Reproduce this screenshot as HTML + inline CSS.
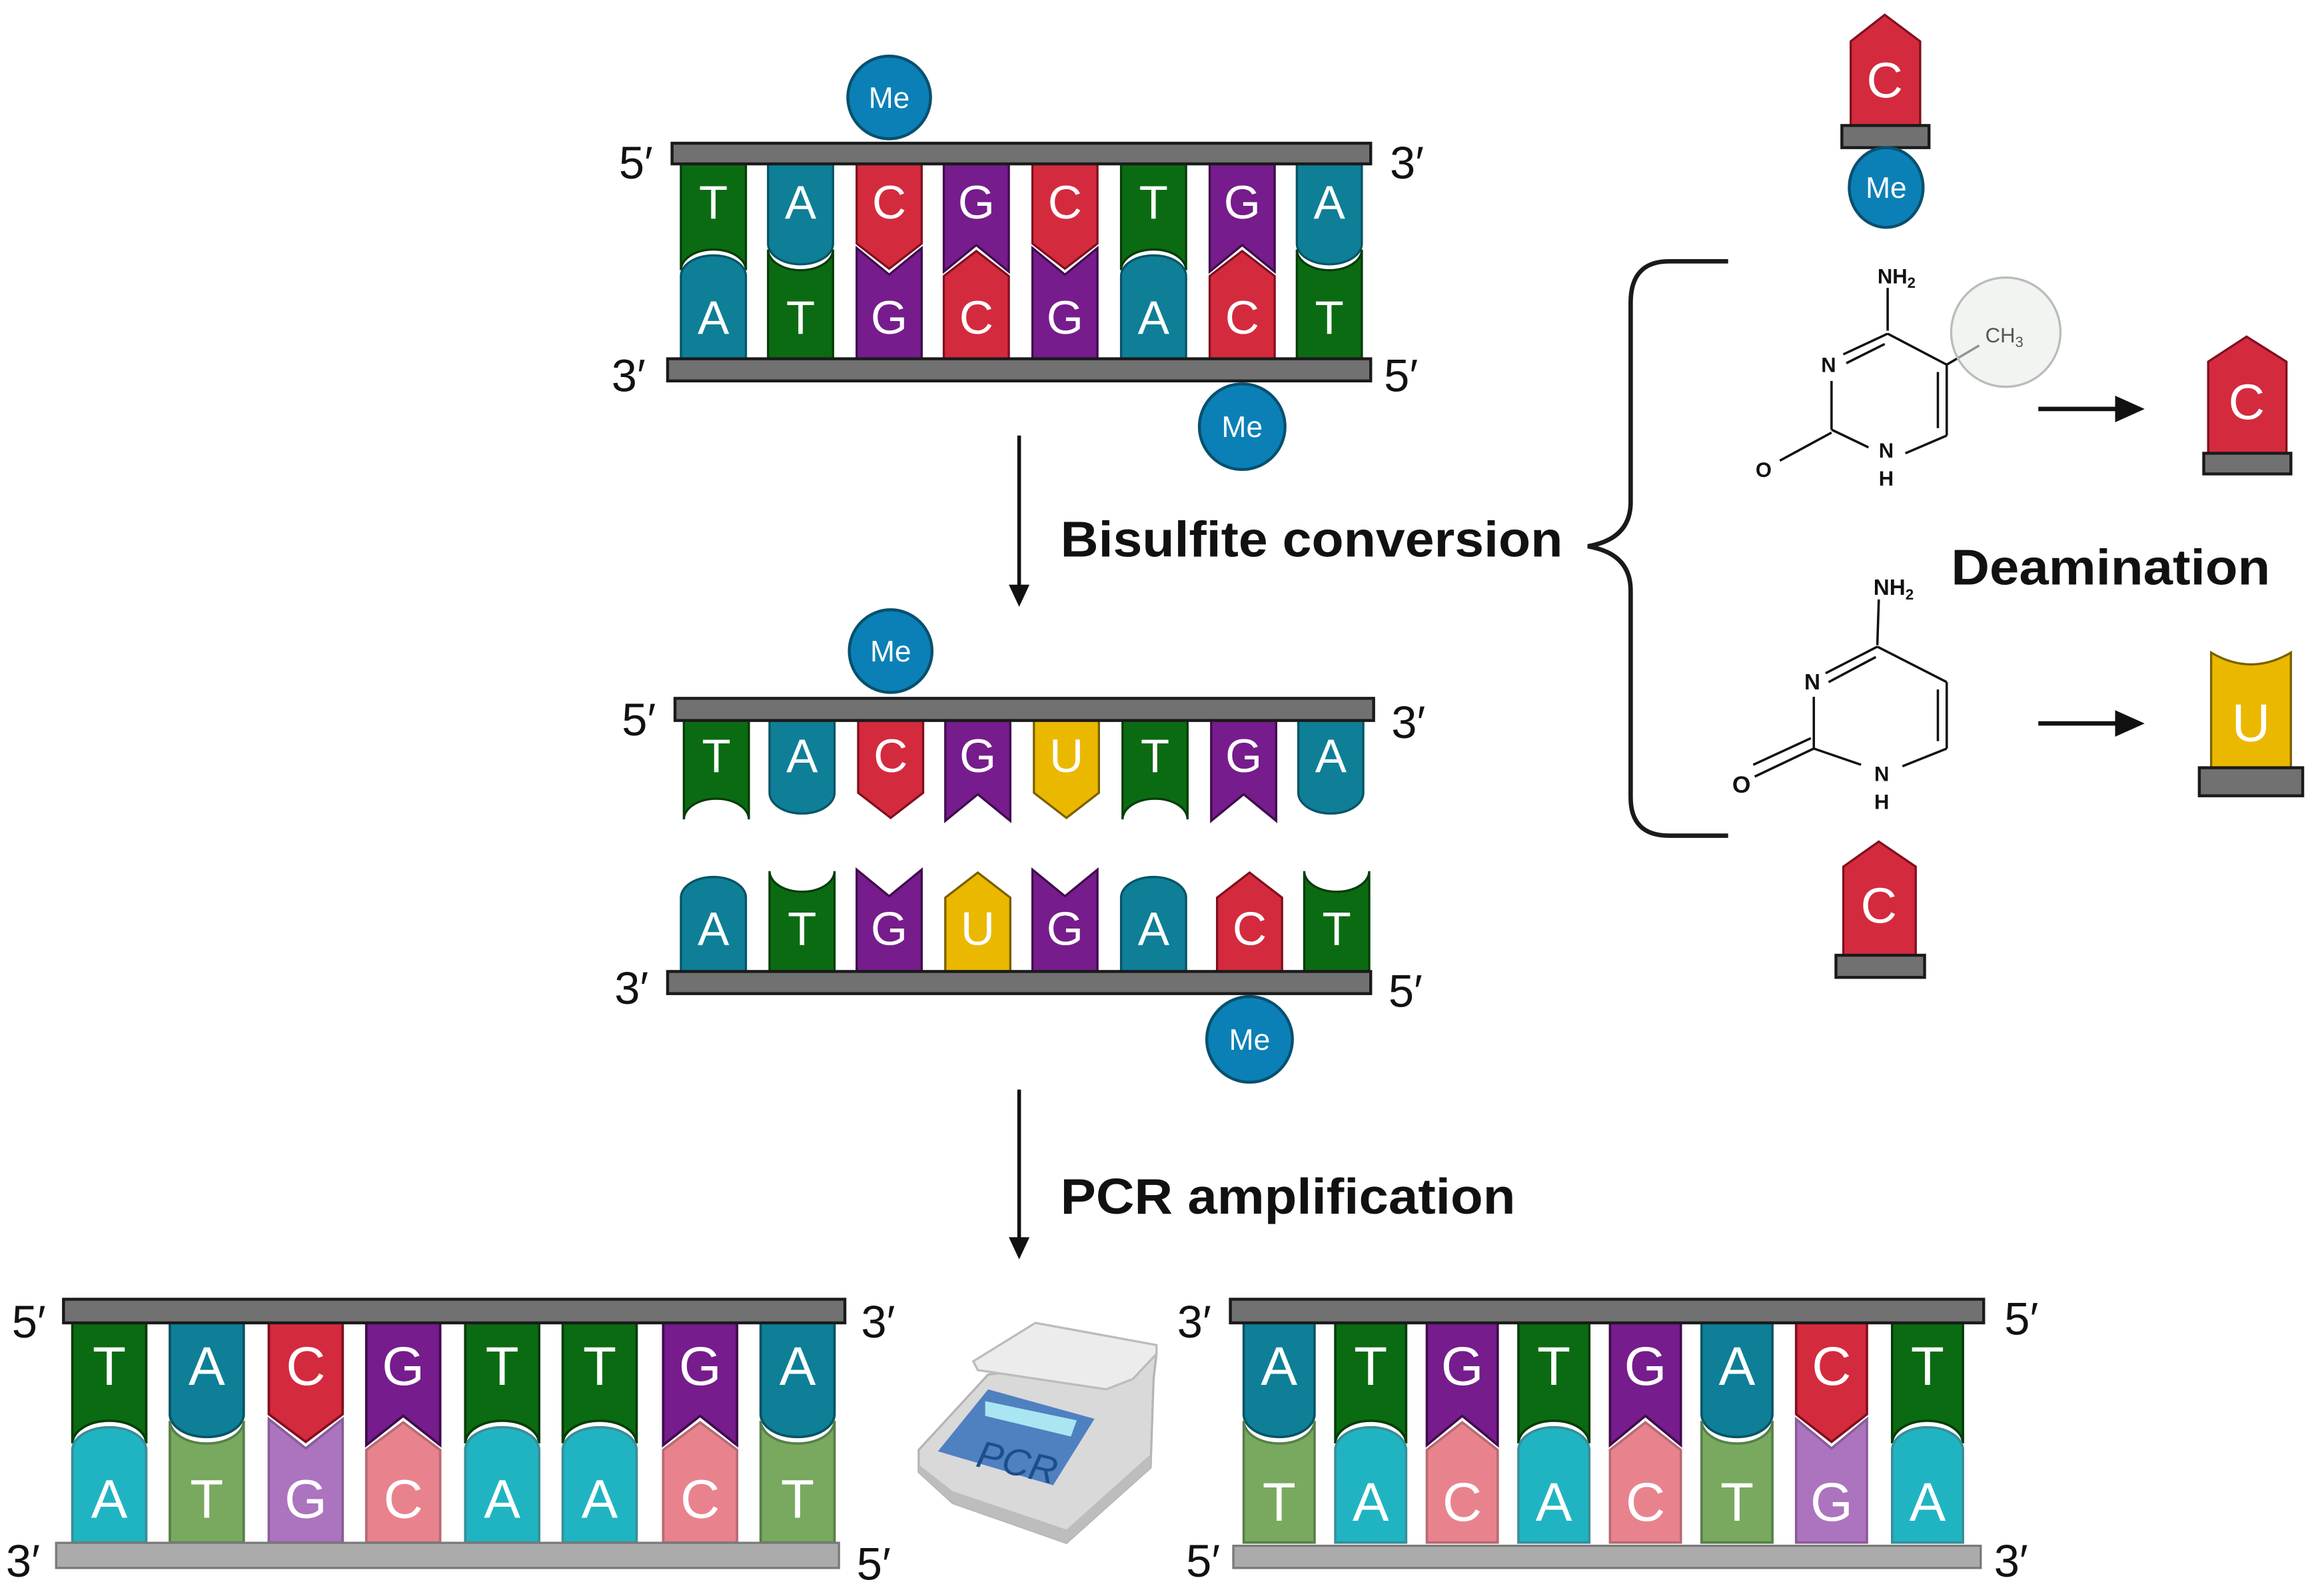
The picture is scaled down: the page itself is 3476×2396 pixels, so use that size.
<!DOCTYPE html>
<html><head><meta charset="utf-8"><style>
html,body{margin:0;padding:0;background:#fff}
svg{display:block}
text{font-family:"Liberation Sans",sans-serif}
</style></head><body>
<svg width="3476" height="2396" viewBox="0 0 1568 1081" preserveAspectRatio="none" xmlns="http://www.w3.org/2000/svg">
<defs>
<path id="cv" d="M-22,-68 H22 V-11 A22,14 0 0 1 -22,-11 Z"/>
<path id="cc" d="M-22,-68 H22 V7 A22,14 0 0 0 -22,7 Z"/>
<path id="pt" d="M-22,-68 H22 V-11 L0,6 L-22,-11 Z"/>
<path id="nt" d="M-22,-68 H22 V8 L0,-10 L-22,8 Z"/>
</defs>
<style>
.T{fill:#0b6b12;stroke:#053d08}
.A{fill:#0e7f97;stroke:#075466}
.C{fill:#d42a3e;stroke:#80101e}
.G{fill:#761c8c;stroke:#3f0c4c}
.U{fill:#ebb800;stroke:#7a6000}
.lT{fill:#79a85f;stroke:#56804a}
.lA{fill:#20b4c2;stroke:#3a8e98}
.lC{fill:#e8838d;stroke:#b86a72}
.lG{fill:#ac73bf;stroke:#8a5c99}
use{stroke-width:1.5}
.lt{fill:#fff;font-size:32px;text-anchor:middle}
.lt3{fill:#fff;font-size:37px;text-anchor:middle}
.pr{fill:#111;font-size:31px}
.bar{fill:#717171;stroke:#1a1a1a;stroke-width:2}
.lbar{fill:#ababab;stroke:#7a7a7a;stroke-width:1.5}
.me circle{fill:#0b80b6;stroke:#08506f;stroke-width:2}
.me text{fill:#fff;font-size:20px;text-anchor:middle}
.hd{font-weight:bold;font-size:34px;fill:#111}
.ch{font-weight:bold;font-size:14px;fill:#111;text-anchor:middle}
</style>

<!-- ===== Diagram 1 ===== -->
<g>
<use href="#cc" class="T" transform="translate(483,176)"/>
<use href="#cv" class="A" transform="translate(542,176)"/>
<use href="#pt" class="C" transform="translate(602,176)"/>
<use href="#nt" class="G" transform="translate(661,176)"/>
<use href="#pt" class="C" transform="translate(721,176)"/>
<use href="#cc" class="T" transform="translate(781,176)"/>
<use href="#nt" class="G" transform="translate(841,176)"/>
<use href="#cv" class="A" transform="translate(900,176)"/>
<use href="#cv" class="A" transform="translate(483,176) scale(1,-1)"/>
<use href="#cc" class="T" transform="translate(542,176) scale(1,-1)"/>
<use href="#nt" class="G" transform="translate(602,176) scale(1,-1)"/>
<use href="#pt" class="C" transform="translate(661,176) scale(1,-1)"/>
<use href="#nt" class="G" transform="translate(721,176) scale(1,-1)"/>
<use href="#cv" class="A" transform="translate(781,176) scale(1,-1)"/>
<use href="#pt" class="C" transform="translate(841,176) scale(1,-1)"/>
<use href="#cc" class="T" transform="translate(900,176) scale(1,-1)"/>
<rect class="bar" x="455" y="97" width="473" height="14"/>
<rect class="bar" x="452" y="243" width="476" height="15"/>
<g class="lt">
<text x="483" y="148">T</text><text x="542" y="148">A</text><text x="602" y="148">C</text><text x="661" y="148">G</text><text x="721" y="148">C</text><text x="781" y="148">T</text><text x="841" y="148">G</text><text x="900" y="148">A</text>
<text x="483" y="226">A</text><text x="542" y="226">T</text><text x="602" y="226">G</text><text x="661" y="226">C</text><text x="721" y="226">G</text><text x="781" y="226">A</text><text x="841" y="226">C</text><text x="900" y="226">T</text>
</g>
<text class="pr" x="419" y="121">5′</text><text class="pr" x="941" y="121">3′</text>
<text class="pr" x="414" y="265">3′</text><text class="pr" x="937" y="265">5′</text>
<g class="me"><circle cx="602" cy="66" r="28"/><text x="602" y="73">Me</text></g>
<g class="me"><circle cx="841" cy="289" r="29"/><text x="841" y="296">Me</text></g>
</g>

<line x1="690" y1="295" x2="690" y2="398" stroke="#111" stroke-width="2.5"/>
<polygon points="683,396 697,396 690,411" fill="#111"/>
<text class="hd" x="718" y="377" textLength="340" lengthAdjust="spacingAndGlyphs">Bisulfite conversion</text>

<!-- ===== Diagram 2 ===== -->
<g>
<use href="#cc" class="T" transform="translate(485,548)"/>
<use href="#cv" class="A" transform="translate(543,548)"/>
<use href="#pt" class="C" transform="translate(603,548)"/>
<use href="#nt" class="G" transform="translate(662,548)"/>
<use href="#pt" class="U" transform="translate(722,548)"/>
<use href="#cc" class="T" transform="translate(782,548)"/>
<use href="#nt" class="G" transform="translate(842,548)"/>
<use href="#cv" class="A" transform="translate(901,548)"/>
<use href="#cv" class="A" transform="translate(483,597) scale(1,-1)"/>
<use href="#cc" class="T" transform="translate(543,597) scale(1,-1)"/>
<use href="#nt" class="G" transform="translate(602,597) scale(1,-1)"/>
<use href="#pt" class="U" transform="translate(662,597) scale(1,-1)"/>
<use href="#nt" class="G" transform="translate(721,597) scale(1,-1)"/>
<use href="#cv" class="A" transform="translate(781,597) scale(1,-1)"/>
<use href="#pt" class="C" transform="translate(846,597) scale(1,-1)"/>
<use href="#cc" class="T" transform="translate(905,597) scale(1,-1)"/>
<rect class="bar" x="457" y="473" width="473" height="15"/>
<rect class="bar" x="452" y="658" width="476" height="15"/>
<g class="lt">
<text x="485" y="523">T</text><text x="543" y="523">A</text><text x="603" y="523">C</text><text x="662" y="523">G</text><text x="722" y="523">U</text><text x="782" y="523">T</text><text x="842" y="523">G</text><text x="901" y="523">A</text>
<text x="483" y="640">A</text><text x="543" y="640">T</text><text x="602" y="640">G</text><text x="662" y="640">U</text><text x="721" y="640">G</text><text x="781" y="640">A</text><text x="846" y="640">C</text><text x="905" y="640">T</text>
</g>
<text class="pr" x="421" y="498">5′</text><text class="pr" x="942" y="500">3′</text>
<text class="pr" x="416" y="680">3′</text><text class="pr" x="940" y="682">5′</text>
<g class="me"><circle cx="603" cy="441" r="28"/><text x="603" y="448">Me</text></g>
<g class="me"><circle cx="846" cy="704" r="29"/><text x="846" y="711">Me</text></g>
</g>

<line x1="690" y1="738" x2="690" y2="840" stroke="#111" stroke-width="2.5"/>
<polygon points="683,838 697,838 690,853" fill="#111"/>
<text class="hd" x="718" y="822" textLength="308" lengthAdjust="spacingAndGlyphs">PCR amplification</text>

<!-- ===== Diagram 3 left ===== -->
<g>
<use href="#cc" class="T" transform="translate(74,970) scale(1.136,1.1)"/>
<use href="#cv" class="A" transform="translate(140,970) scale(1.136,1.1)"/>
<use href="#pt" class="C" transform="translate(207,970) scale(1.136,1.1)"/>
<use href="#nt" class="G" transform="translate(273,970) scale(1.136,1.1)"/>
<use href="#cc" class="T" transform="translate(340,970) scale(1.136,1.1)"/>
<use href="#cc" class="T" transform="translate(406,970) scale(1.136,1.1)"/>
<use href="#nt" class="G" transform="translate(474,970) scale(1.136,1.1)"/>
<use href="#cv" class="A" transform="translate(540,970) scale(1.136,1.1)"/>
<use href="#cv" class="lA" transform="translate(74,970) scale(1.136,-1.1)"/>
<use href="#cc" class="lT" transform="translate(140,970) scale(1.136,-1.1)"/>
<use href="#nt" class="lG" transform="translate(207,970) scale(1.136,-1.1)"/>
<use href="#pt" class="lC" transform="translate(273,970) scale(1.136,-1.1)"/>
<use href="#cv" class="lA" transform="translate(340,970) scale(1.136,-1.1)"/>
<use href="#cv" class="lA" transform="translate(406,970) scale(1.136,-1.1)"/>
<use href="#pt" class="lC" transform="translate(474,970) scale(1.136,-1.1)"/>
<use href="#cc" class="lT" transform="translate(540,970) scale(1.136,-1.1)"/>
<rect class="bar" x="43" y="880" width="529" height="16"/>
<rect class="lbar" x="38" y="1045" width="530" height="17"/>
<g class="lt3">
<text x="74" y="938">T</text><text x="140" y="938">A</text><text x="207" y="938">C</text><text x="273" y="938">G</text><text x="340" y="938">T</text><text x="406" y="938">T</text><text x="474" y="938">G</text><text x="540" y="938">A</text>
<text x="74" y="1028">A</text><text x="140" y="1028">T</text><text x="207" y="1028">G</text><text x="273" y="1028">C</text><text x="340" y="1028">A</text><text x="406" y="1028">A</text><text x="474" y="1028">C</text><text x="540" y="1028">T</text>
</g>
<text class="pr" x="8" y="906">5′</text><text class="pr" x="583" y="906">3′</text>
<text class="pr" x="4" y="1068">3′</text><text class="pr" x="580" y="1070">5′</text>
</g>

<!-- ===== Diagram 3 right ===== -->
<g>
<use href="#cv" class="A" transform="translate(866,970) scale(1.09,1.1)"/>
<use href="#cc" class="T" transform="translate(928,970) scale(1.09,1.1)"/>
<use href="#nt" class="G" transform="translate(990,970) scale(1.09,1.1)"/>
<use href="#cc" class="T" transform="translate(1052,970) scale(1.09,1.1)"/>
<use href="#nt" class="G" transform="translate(1114,970) scale(1.09,1.1)"/>
<use href="#cv" class="A" transform="translate(1176,970) scale(1.09,1.1)"/>
<use href="#pt" class="C" transform="translate(1240,970) scale(1.09,1.1)"/>
<use href="#cc" class="T" transform="translate(1305,970) scale(1.09,1.1)"/>
<use href="#cc" class="lT" transform="translate(866,970) scale(1.09,-1.1)"/>
<use href="#cv" class="lA" transform="translate(928,970) scale(1.09,-1.1)"/>
<use href="#pt" class="lC" transform="translate(990,970) scale(1.09,-1.1)"/>
<use href="#cv" class="lA" transform="translate(1052,970) scale(1.09,-1.1)"/>
<use href="#pt" class="lC" transform="translate(1114,970) scale(1.09,-1.1)"/>
<use href="#cc" class="lT" transform="translate(1176,970) scale(1.09,-1.1)"/>
<use href="#nt" class="lG" transform="translate(1240,970) scale(1.09,-1.1)"/>
<use href="#cv" class="lA" transform="translate(1305,970) scale(1.09,-1.1)"/>
<rect class="bar" x="833" y="880" width="510" height="16"/>
<rect class="lbar" x="835" y="1047" width="506" height="15"/>
<g class="lt3">
<text x="866" y="938">A</text><text x="928" y="938">T</text><text x="990" y="938">G</text><text x="1052" y="938">T</text><text x="1114" y="938">G</text><text x="1176" y="938">A</text><text x="1240" y="938">C</text><text x="1305" y="938">T</text>
<text x="866" y="1030">T</text><text x="928" y="1030">A</text><text x="990" y="1030">C</text><text x="1052" y="1030">A</text><text x="1114" y="1030">C</text><text x="1176" y="1030">T</text><text x="1240" y="1030">G</text><text x="1305" y="1030">A</text>
</g>
<text class="pr" x="797" y="906">3′</text><text class="pr" x="1357" y="904">5′</text>
<text class="pr" x="803" y="1068">5′</text><text class="pr" x="1350" y="1068">3′</text>
</g>

<!-- PCR machine -->
<g>
<polygon points="622,982 669,931 783,917 781,934 779,994 722,1045 645,1018 622,997" fill="#d9d9d9" stroke="#b5b5b5" stroke-width="1.5"/>
<polygon points="622,992 645,1010 722,1036 779,985 779,994 722,1045 645,1018 622,997" fill="#bdbdbd"/>
<polygon points="659,922 701,896 783,911 783,917 767,934 749,941 662,928" fill="#ececec" stroke="#bcbcbc" stroke-width="1.5"/>
<polygon points="635,983 669,941 741,961 713,1006" fill="#4f80c0"/>
<polygon points="667,949 729,962 725,973 667,959" fill="#a9e6f2"/>
<text x="660" y="993" font-size="26" font-style="italic" fill="#1d4e8c" transform="rotate(13 660 993)">PCR</text>
</g>

<!-- ===== Right panel ===== -->
<path d="M1253,28 L1276,10 L1300,28 V85 H1253 Z" fill="#d42a3e" stroke="#80101e" stroke-width="1.5"/>
<text x="1276" y="66" class="lt" style="font-size:34px">C</text>
<rect class="bar" x="1247" y="85" width="59" height="15"/>
<g class="me"><ellipse cx="1277" cy="127" rx="25" ry="27" fill="#0b80b6" stroke="#08506f" stroke-width="2"/><text x="1277" y="134">Me</text></g>

<path d="M1170,177 H1130 Q1104,177 1104,205 V340 Q1104,365 1075,370 Q1104,375 1104,400 V540 Q1104,566 1130,566 H1170" fill="none" stroke="#1a1a1a" stroke-width="3"/>

<g stroke="#111" stroke-width="1.6" fill="none">
<line x1="1278" y1="195" x2="1278" y2="224"/>
<line x1="1278" y1="226" x2="1318" y2="247"/>
<line x1="1318" y1="247" x2="1318" y2="295"/>
<line x1="1312" y1="252" x2="1312" y2="290"/>
<line x1="1318" y1="295" x2="1290" y2="307"/>
<line x1="1265" y1="303" x2="1240" y2="291"/>
<line x1="1240" y1="291" x2="1240" y2="258"/>
<line x1="1248" y1="240" x2="1278" y2="226"/>
<line x1="1250" y1="246" x2="1276" y2="233"/>
<line x1="1240" y1="293" x2="1205" y2="312"/>
<line x1="1318" y1="247" x2="1340" y2="234"/>
</g>
<circle cx="1358" cy="225" r="37" fill="#e9ece9" fill-opacity="0.6" stroke="#b9bdb9" stroke-width="1.5"/>
<text x="1357" y="232" font-size="14" fill="#555" text-anchor="middle">CH<tspan font-size="10" dy="3">3</tspan></text>
<text class="ch" x="1284" y="192">NH<tspan font-size="10" dy="3">2</tspan></text>
<text class="ch" x="1238" y="252">N</text>
<text class="ch" x="1277" y="310">N</text>
<text class="ch" x="1277" y="329">H</text>
<text class="ch" x="1194" y="323">O</text>

<g stroke="#111" stroke-width="1.6" fill="none">
<line x1="1272" y1="406" x2="1271" y2="437"/>
<line x1="1271" y1="438" x2="1318" y2="462"/>
<line x1="1318" y1="462" x2="1318" y2="507"/>
<line x1="1312" y1="467" x2="1312" y2="502"/>
<line x1="1318" y1="507" x2="1288" y2="519"/>
<line x1="1260" y1="518" x2="1228" y2="507"/>
<line x1="1228" y1="507" x2="1228" y2="472"/>
<line x1="1236" y1="456" x2="1271" y2="438"/>
<line x1="1238" y1="462" x2="1270" y2="445"/>
<line x1="1228" y1="507" x2="1188" y2="526"/>
<line x1="1226" y1="500" x2="1187" y2="518"/>
</g>
<text class="ch" x="1282" y="403" style="font-size:15px">NH<tspan font-size="10" dy="3">2</tspan></text>
<text class="ch" x="1227" y="467" style="font-size:15px">N</text>
<text class="ch" x="1274" y="529">N</text>
<text class="ch" x="1274" y="548">H</text>
<text class="ch" x="1179" y="537" style="font-size:16px">O</text>

<line x1="1380" y1="277" x2="1435" y2="277" stroke="#111" stroke-width="3"/>
<polygon points="1432,268 1452,277 1432,286" fill="#111"/>
<line x1="1380" y1="490" x2="1435" y2="490" stroke="#111" stroke-width="3"/>
<polygon points="1432,481 1452,490 1432,499" fill="#111"/>

<path d="M1495,245 L1521,228 L1548,245 V307 H1495 Z" fill="#d42a3e" stroke="#80101e" stroke-width="1.5"/>
<text x="1521" y="284" class="lt" style="font-size:34px">C</text>
<rect class="bar" x="1492" y="307" width="59" height="14"/>

<text class="hd" x="1321" y="396" textLength="216" lengthAdjust="spacingAndGlyphs">Deamination</text>

<path d="M1497,442 Q1524,458 1551,442 V520 H1497 Z" fill="#ebb800" stroke="#7a6000" stroke-width="1.5"/>
<text x="1524" y="502" class="lt" style="font-size:36px">U</text>
<rect class="bar" x="1489" y="520" width="70" height="19"/>

<path d="M1248,587 L1272,570 L1297,587 V647 H1248 Z" fill="#d42a3e" stroke="#80101e" stroke-width="1.5"/>
<text x="1272" y="625" class="lt" style="font-size:34px">C</text>
<rect class="bar" x="1243" y="647" width="60" height="15"/>
</svg>
</body></html>
